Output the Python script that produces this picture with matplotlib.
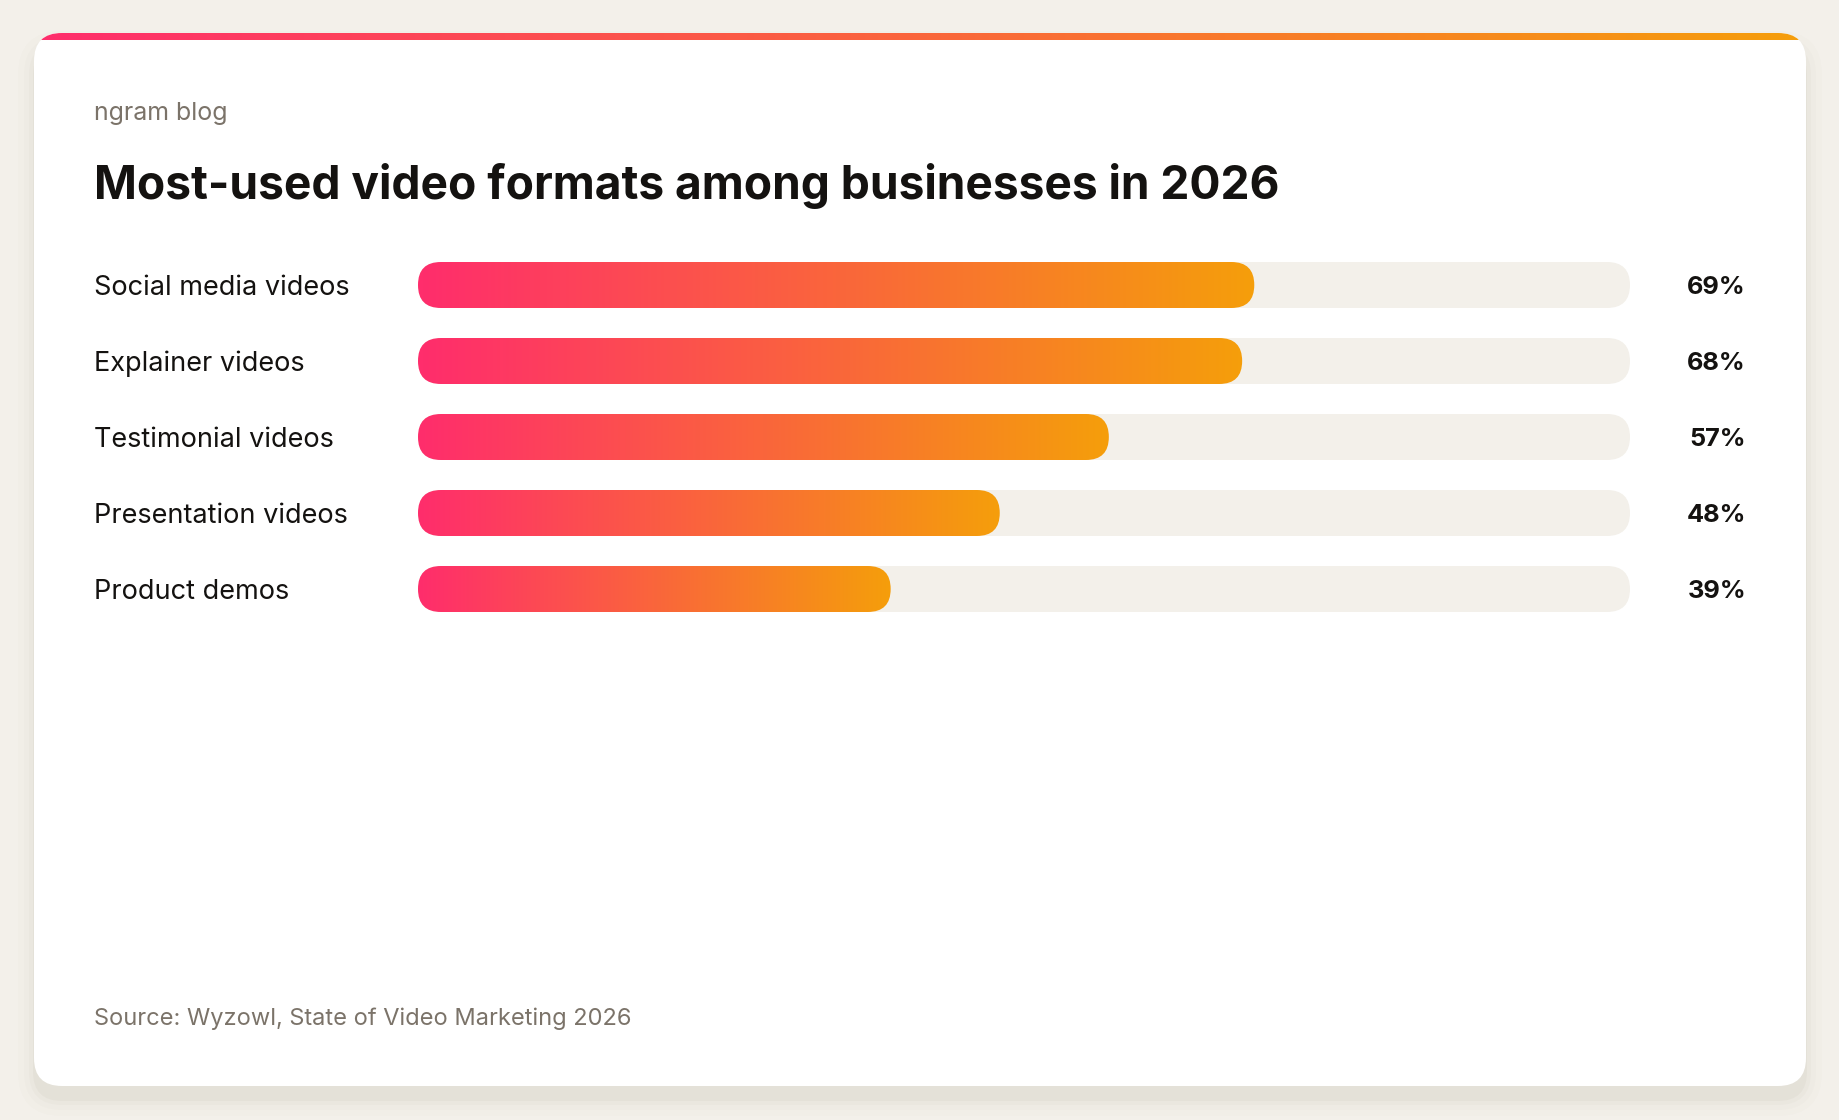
import numpy as np
import matplotlib.pyplot as plt
import matplotlib.transforms as mtransforms
from matplotlib.patches import FancyBboxPatch
from matplotlib.colors import LinearSegmentedColormap

# Datos del grafico
categories = ["Social media videos", "Explainer videos", "Testimonial videos",
              "Presentation videos", "Product demos"]
shares = [69, 68, 57, 48, 39]
value_labels = ["69%", "68%", "57%", "48%", "39%"]

kicker = "ngram blog"
title = "Most-used video formats among businesses in 2026"
source = "Source: Wyzowl, State of Video Marketing 2026"

W, H = 1840, 1120
BG = "#F3F0EA"
TRACK = "#F3F0EA"
INK = "#141210"
MUTED = "#7B7369"
grad = LinearSegmentedColormap.from_list("pink_orange", ["#FF2D6C", "#F59E0B"])
ramp = np.linspace(0, 1, 256)[None, :]

plt.rcParams['font.family'] = ['Inter', 'DejaVu Sans']

fig = plt.figure(figsize=(W / 100, H / 100), dpi=100)
fig.patch.set_facecolor(BG)

# Capa de fondo en pixeles
bg = fig.add_axes([0, 0, 1, 1])
bg.axis('off')

# Sombra suave de la tarjeta (sobre todo hacia abajo)
for grow, alpha in [(16, 0.01), (10, 0.017), (5, 0.025), (1, 0.035)]:
    bg.add_patch(FancyBboxPatch((34 - grow, 33 - grow + 14), 1772 + 2 * grow, 1053 + 2 * grow,
                                boxstyle=f"round,pad=0,rounding_size={28 + grow}",
                                fc="#5a4a30", ec="none", alpha=alpha, zorder=1))

card = FancyBboxPatch((34, 33), 1772, 1053, boxstyle="round,pad=0,rounding_size=28",
                      fc="white", ec="none", zorder=2)
bg.add_patch(card)

stripe = bg.imshow(ramp, cmap=grad, extent=(34, 1806, 40, 33), aspect='auto', zorder=3)
stripe.set_clip_path(card)
bg.set_xlim(0, W)
bg.set_ylim(H, 0)

bg.text(94, 120, kicker, fontsize=18, color=MUTED, va='baseline', zorder=4)
bg.text(94, 199, title, fontsize=33.2, weight='bold', color=INK, va='baseline', zorder=4)
bg.text(94, 1025, source, fontsize=17, color=MUTED, va='baseline', zorder=4)

# Ejes de las barras
n = len(categories)
ax = fig.add_axes([418 / W, 1 - 627 / H, 1212 / W, 380 / H])
ax.set_xlim(0, 100)
ax.set_ylim(n - 0.5, -0.5)
ax.axis('off')
ax.patch.set_alpha(0)

bar_h = 46 / 76
px_x = 1212 / 100
px_y = 76
rx = 23 / px_x
aspect = (23 / px_y) / rx

lab_tf = mtransforms.blended_transform_factory(bg.transData, ax.transData)

for i, (cat, v, lab) in enumerate(zip(categories, shares, value_labels)):
    track = FancyBboxPatch((0, i - bar_h / 2), 100, bar_h,
                           boxstyle=f"round,pad=0,rounding_size={rx}",
                           mutation_aspect=aspect, fc=TRACK, ec="none", zorder=1)
    ax.add_patch(track)
    fill = FancyBboxPatch((0, i - bar_h / 2), v, bar_h,
                          boxstyle=f"round,pad=0,rounding_size={rx}",
                          mutation_aspect=aspect, fc="none", ec="none", zorder=2)
    ax.add_patch(fill)
    im = ax.imshow(ramp, cmap=grad, extent=(0, v, i + bar_h / 2, i - bar_h / 2),
                   aspect='auto', interpolation='bicubic', zorder=2)
    im.set_clip_path(fill)

    ax.text(94, i, cat, transform=lab_tf, fontsize=19.5, color=INK,
            ha='left', va='center_baseline')
    ax.text(1746, i, lab, transform=lab_tf, fontsize=18.3, weight='bold', color=INK,
            ha='right', va='center_baseline')

ax.set_xlim(0, 100)
ax.set_ylim(n - 0.5, -0.5)

fig.savefig("out.png", dpi=100, facecolor=BG)
